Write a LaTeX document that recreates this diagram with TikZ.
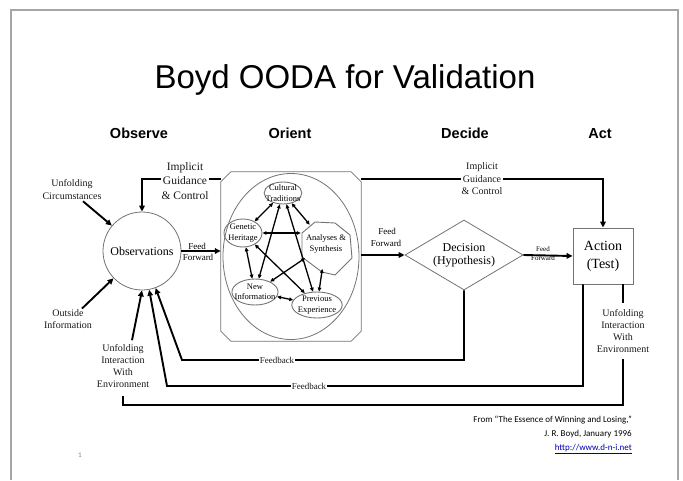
\documentclass[tikz,border=0pt]{standalone}
\usepackage{fontspec}
\setmainfont{Liberation Serif}
\newfontfamily\headfont{Liberation Sans}
\newfontfamily\notefont{Carlito}
\usetikzlibrary{arrows.meta,shapes.geometric}
\newcommand\fsz[2]{\fontsize{#1}{#2}\selectfont}

\begin{document}
\begin{tikzpicture}[x=1pt,y=-1pt,
  conn/.style={line width=1.9pt, draw=black},
  arr/.style={conn, -{Triangle[length=6pt,width=5.5pt]}},
  biarr/.style={line width=1.3pt, draw=black,
    {Triangle[length=4pt,width=3.6pt]}-{Triangle[length=4pt,width=3.6pt]}},
  outline/.style={draw=black!55, line width=0.8pt},
  lbl/.style={align=center, inner sep=1pt, text=black!90},
  inode/.style={ellipse, outline, line width=0.9pt, align=center,
    font=\fsz{8.5}{10.5}, inner ysep=-2pt},
  hdr/.style={font=\headfont\bfseries\fsz{14.5}{16}, anchor=base},
  ffl/.style={font=\fsz{9}{10}, inner sep=0.5pt},
]
\useasboundingbox (0,0) rectangle (683,480);

% slide frame
\draw[black!35, line width=1.8pt] (11,480) -- (11,10) -- (678,10) -- (678,480);

% title and phase headings
\node[font=\headfont\fsz{33}{36}, anchor=base] (title) at (345,88) {Boyd OODA for Validation};
\node[hdr] (hobs) at (139,138) {Observe};
\node[hdr] (hori) at (290,138) {Orient};
\node[hdr] (hdec) at (465,138) {Decide};
\node[hdr] (hact) at (600,138) {Act};

% main nodes
\node[circle, outline, minimum size=78pt, inner sep=0, font=\fsz{12}{14}] (obs) at (142,251) {Observations};
\node[rectangle, minimum width=140pt, minimum height=169pt, inner sep=0] (orient) at (291,256.5) {};
\draw[outline] ([xshift=10pt]orient.north west) -- ([xshift=-10pt]orient.north east)
  -- ([yshift=-10pt]orient.north east) -- ([yshift=10pt]orient.south east)
  -- ([xshift=-10pt]orient.south east) -- ([xshift=10pt]orient.south west)
  -- ([yshift=10pt]orient.south west) -- ([yshift=-10pt]orient.north west) -- cycle;
\node[ellipse, outline, minimum width=136pt, minimum height=166pt, inner sep=0] (mind) at (291,256.5) {};
\node[diamond, outline, shape aspect=1.7, minimum width=118pt, minimum height=70pt, inner sep=0,
  align=center, font=\fsz{12}{13}] (dec) at (464,255) {Decision\\(Hypothesis)};
\node[rectangle, outline, minimum width=60pt, minimum height=56pt, align=center,
  font=\fsz{14}{18}] (act) at (603,256) {Action\\(Test)};

% orientation elements
\node[inode, inner xsep=-4pt, minimum height=22pt] (ct) at (283,193) {Cultural\\Traditions};
\node[inode, inner xsep=-1.2pt, minimum height=28pt] (gh) at (243,233) {Genetic\\Heritage};
\node[inode, inner xsep=-4pt, minimum height=26pt] (ni) at (255,292) {New\\Information};
\node[inode, inner xsep=-1.3pt, minimum height=26pt] (pe) at (317,305) {Previous\\Experience};
\draw[outline, line width=0.9pt] (302,233) -- (315,222) -- (335,223) -- (350,235) -- (352,258)
  -- (335,275) -- (322,272) -- (302,257) -- cycle;
\node[circle, minimum size=50pt, inner sep=0, align=center, font=\fsz{8.5}{11}] (an) at (326,244) {Analyses \&\\Synthesis};

\draw[biarr] (ct) -- (gh);
\draw[biarr] (ct) -- (an);
\draw[biarr] (gh.east) -- (gh.east -| an.west);
\draw[biarr] (gh) -- (ni);
\draw[biarr] (ni) -- (pe);
\draw[biarr] (an) -- (pe);
\draw[biarr] (ct) -- (ni);
\draw[biarr] (ct) -- (pe);
\draw[biarr] (gh) -- (pe);
\draw[biarr] (an) -- (ni);

% feed forward
\draw[arr] (obs.east) -- (obs.east -| orient.west);
\node[ffl] (ff1a) at (197,246) {Feed};
\node[ffl] (ff1b) at (198,257) {Forward};
\draw[arr] (orient.east |- dec.west) -- (dec.west);
\node[ffl] (ff2a) at (387,231) {Feed};
\node[ffl] (ff2b) at (386,243) {Forward};
\draw[arr] (dec.east) -- (act.west);
\node[ffl, font=\fsz{7}{8}] (ff3a) at (543,249.5) {Feed};
\node[ffl, font=\fsz{7}{8}] (ff3b) at (543,258.5) {Forward};

% implicit guidance and control
\coordinate (igy) at (0,179);
\draw[arr] (orient.west |- igy) -| (obs.north);
\node[lbl, fill=white, font=\fsz{11.5}{14.5}] (igl) at (185,181) {Implicit\\Guidance\\\& Control};
\draw[arr] (orient.east |- igy) -| (act.north);
\node[lbl, fill=white, font=\fsz{10}{12.5}] (igr) at (482,179) {Implicit\\Guidance\\\& Control};

% feedback loops
\coordinate (fb1) at (182,360);
\coordinate (fb2) at (167,386);
\draw[arr] (dec.south) |- (fb1) -- (obs);
\node[lbl, fill=white, font=\fsz{9}{10}] (fbl1) at (277,360) {Feedback};
\draw[arr] ([xshift=-20pt]act.south) |- (fb2) -- (obs);
\node[lbl, fill=white, font=\fsz{9}{10}] (fbl2) at (309,386) {Feedback};

% outside inputs
\node[lbl, font=\fsz{10}{13}] (uc) at (72,190) {Unfolding\\Circumstances};
\draw[arr] ([xshift=11pt]uc.south) -- (obs);
\node[lbl, font=\fsz{10}{11.5}] (oi) at (68,319) {Outside\\Information};
\draw[arr] ([xshift=14pt]oi.north) -- (obs);
\node[lbl, font=\fsz{10}{12}] (uil) at (123,366) {Unfolding\\Interaction\\With\\Environment};
\draw[arr] ([xshift=9pt,yshift=3pt]uil.north) -- (obs.south);

% interaction with environment loop
\node[lbl, font=\fsz{10}{12.3}] (uir) at (623,331) {Unfolding\\Interaction\\With\\Environment};
\coordinate (envy) at (0,405);
\draw[conn] ([xshift=20pt]act.south) -- ([yshift=5pt]uir.north);
\draw[conn] ([yshift=-5pt]uir.south) |- (envy -| uil.south) -- ([yshift=-7pt]uil.south);

% source note
\node[anchor=north east, align=right, font=\notefont\fsz{9}{14}, inner sep=0] (src) at (632,416)
  {From “The Essence of Winning and Losing,”\\J. R. Boyd, January 1996\\
   \textcolor{blue!70!black}{\underline{http://www.d-n-i.net}}};
\node[font=\notefont\fsz{7}{8}, text=black!50] (pg) at (80,455) {1};
\end{tikzpicture}
\end{document}
